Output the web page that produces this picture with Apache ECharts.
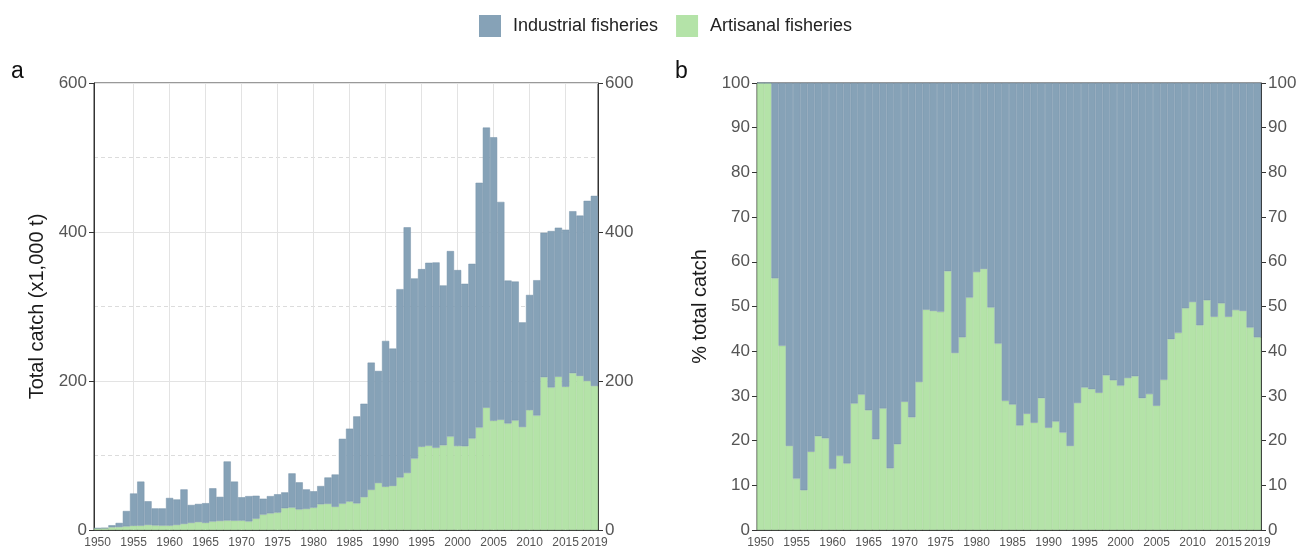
<!DOCTYPE html>
<html>
<head>
<meta charset="utf-8">
<script src="https://cdn.jsdelivr.net/npm/echarts@6/dist/echarts.min.js"></script>
<style>
  html, body { margin: 0; padding: 0; background: #fff; }
  #main { width: 1313px; height: 553px; }
</style>
</head>
<body>
<div id="main"></div>
<script>
let years = [];
for (let y = 1950; y <= 2019; y++) years.push(String(y));

// panel a, x1,000 t
let artisanalCatch = [
    2.3, 2.5, 3.6, 3.9, 4.8, 5.6, 5.8, 6.8, 6.1, 5.9,
    5.9, 6.8, 8.1, 9.5, 10.6, 9.6, 11.4, 12.1, 12.7, 12.5,
    12.6, 11.5, 15.2, 20.7, 22.3, 23.4, 29.2, 30.1, 27.6, 28.3,
    30.0, 34.5, 35.1, 31.1, 35.4, 38.2, 35.7, 44.1, 53.9, 63.0,
    58.1, 59.2, 70.5, 76.4, 95.9, 111.7, 113.0, 110.3, 113.6, 125.4,
    112.7, 112.4, 122.9, 137.5, 164.2, 146.6, 148.0, 143.0, 147.1, 138.2,
    160.9, 153.6, 205.1, 191.4, 205.7, 192.3, 210.5, 206.8, 200.1, 193.3
];
let industrialCatch = [
    0, 0, 2.8, 5.6, 20.7, 43.4, 59.2, 31.8, 22.9, 23.1,
    37.1, 34.2, 46.4, 24.1, 24.4, 26.4, 44.6, 32.4, 79.3, 52.5,
    31.4, 34.0, 30.8, 21.3, 23.2, 24.6, 21.3, 45.9, 36.4, 26.2,
    22.0, 24.5, 35.4, 43.4, 87.0, 97.8, 116.8, 125.4, 170.8, 150.5,
    195.7, 184.3, 252.8, 329.9, 241.8, 238.5, 245.7, 248.9, 214.7, 249.0,
    236.2, 218.1, 234.4, 328.6, 376.0, 380.6, 292.4, 191.8, 186.4, 140.5,
    154.6, 181.7, 194.0, 209.9, 200.1, 210.8, 217.4, 215.2, 241.7, 255.2
];

// panel b, % of total catch
let artisanalShare = [
    100, 100, 56.3, 41.2, 18.8, 11.5, 8.9, 17.5, 21.0, 20.5,
    13.7, 16.6, 14.9, 28.3, 30.3, 26.8, 20.3, 27.2, 13.8, 19.2,
    28.7, 25.2, 33.1, 49.3, 49.0, 48.8, 57.9, 39.6, 43.1, 52.0,
    57.7, 58.4, 49.8, 41.7, 28.9, 28.1, 23.4, 26.0, 24.0, 29.5,
    22.9, 24.3, 21.8, 18.8, 28.4, 31.9, 31.5, 30.7, 34.6, 33.5,
    32.3, 34.0, 34.4, 29.5, 30.4, 27.8, 33.6, 42.7, 44.1, 49.6,
    51.0, 45.8, 51.4, 47.7, 50.7, 47.7, 49.2, 49.0, 45.3, 43.1
];
let industrialShare = [
    0, 0, 43.7, 58.8, 81.2, 88.5, 91.1, 82.5, 79.0, 79.5,
    86.3, 83.4, 85.1, 71.7, 69.7, 73.2, 79.7, 72.8, 86.2, 80.8,
    71.3, 74.8, 66.9, 50.7, 51.0, 51.2, 42.1, 60.4, 56.9, 48.0,
    42.3, 41.6, 50.2, 58.3, 71.1, 71.9, 76.6, 74.0, 76.0, 70.5,
    77.1, 75.7, 78.2, 81.2, 71.6, 68.1, 68.5, 69.3, 65.4, 66.5,
    67.7, 66.0, 65.6, 70.5, 69.6, 72.2, 66.4, 57.3, 55.9, 50.4,
    49.0, 54.2, 48.6, 52.3, 49.3, 52.3, 50.8, 51.0, 54.7, 56.9
];

let blue = '#86a2b7', blueEdge = '#7693a9';
let green = '#b4e3a8', greenEdge = '#a2d396';
let labelGrey = '#555';

// years that get a tick + label
function showYear(i, v) {
    let y = Number(v);
    return y % 5 === 0 || y === 2019;
}

function xAxisFor(grid) {
    return {
        type: 'category',
        gridIndex: grid,
        data: years,
        axisLine: { lineStyle: { color: '#333' } },
        axisTick: { interval: showYear, alignWithLabel: true, length: 5, lineStyle: { color: '#333' } },
        axisLabel: { interval: showYear, color: labelGrey, fontSize: 12, margin: 7, fontFamily: 'Liberation Sans' },
        splitLine: grid === 0 ? {
            show: true,
            alignWithLabel: true,
            interval: function (i, v) { return Number(v) % 5 === 0 && Number(v) > 1950; },
            lineStyle: { color: '#e3e3e3', width: 1 }
        } : { show: false }
    };
}

function yAxisFor(grid, pos, max, step, nameText) {
    return {
        type: 'value',
        gridIndex: grid,
        position: pos,
        min: 0,
        max: max,
        interval: step,
        name: nameText || '',
        nameLocation: 'middle',
        nameGap: 47,
        nameTextStyle: { fontSize: 20, color: '#1a1a1a', fontFamily: 'Liberation Sans' },
        axisLine: { show: true, lineStyle: { color: '#333' } },
        axisTick: { show: true, length: 5, lineStyle: { color: '#333' } },
        axisLabel: { color: labelGrey, fontSize: 17, margin: 7, fontFamily: 'Liberation Sans' },
        splitLine: { show: false }
    };
}

let yCatchLeft = yAxisFor(0, 'left', 600, 200, 'Total catch (x1,000 t)');
yCatchLeft.splitLine = { show: true, lineStyle: { color: '#e3e3e3' } };
// dashed lines at 100 / 300 / 500
let yCatchDash = {
    type: 'value', gridIndex: 0, position: 'left', min: 0, max: 600, interval: 100,
    axisLine: { show: false }, axisTick: { show: false }, axisLabel: { show: false },
    splitLine: {
        show: true,
        lineStyle: { type: [4, 3], color: ['transparent', '#dcdcdc', 'transparent', '#dcdcdc', 'transparent', '#dcdcdc', 'transparent'] }
    }
};

let barStyle = function (c, edge) {
    return { color: c, borderColor: edge, borderWidth: 0.5 };
};

let option = {
    backgroundColor: '#fff',
    animation: false,
    textStyle: { fontFamily: 'Liberation Sans' },
    legend: {
        data: ['Industrial fisheries', 'Artisanal fisheries'],
        left: 474,
        top: 10,
        itemWidth: 22,
        itemHeight: 22,
        itemGap: 18,
        icon: 'rect',
        itemStyle: { borderWidth: 0 },
        textStyle: { fontSize: 18, color: '#222', padding: [0, 0, 0, 7] }
    },
    graphic: [
        { type: 'text', left: 11, top: 60, style: { text: 'a', fill: '#111', font: '23px Liberation Sans' } },
        { type: 'text', left: 675, top: 60, style: { text: 'b', fill: '#111', font: '23px Liberation Sans' } }
    ],
    grid: [
        { left: 94, top: 83, width: 504, height: 447, show: true, borderColor: '#333', borderWidth: 1 },
        { left: 757, top: 83, width: 504, height: 447, show: true, borderColor: '#333', borderWidth: 1 }
    ],
    xAxis: [xAxisFor(0), xAxisFor(1)],
    yAxis: [
        yCatchLeft,
        yAxisFor(0, 'right', 600, 200),
        yAxisFor(1, 'left', 100, 10, '% total catch'),
        yAxisFor(1, 'right', 100, 10),
        yCatchDash
    ],
    series: [
        {
            name: 'Artisanal fisheries', type: 'bar', stack: 'a',
            xAxisIndex: 0, yAxisIndex: 0, barCategoryGap: 0,
            itemStyle: barStyle(green, greenEdge),
            data: artisanalCatch
        },
        {
            name: 'Industrial fisheries', type: 'bar', stack: 'a',
            xAxisIndex: 0, yAxisIndex: 0, barCategoryGap: 0,
            itemStyle: barStyle(blue, blueEdge),
            data: industrialCatch
        },
        {
            name: 'Artisanal fisheries', type: 'bar', stack: 'b',
            xAxisIndex: 1, yAxisIndex: 2, barCategoryGap: 0,
            itemStyle: barStyle(green, greenEdge),
            data: artisanalShare
        },
        {
            name: 'Industrial fisheries', type: 'bar', stack: 'b',
            xAxisIndex: 1, yAxisIndex: 2, barCategoryGap: 0,
            itemStyle: barStyle(blue, blueEdge),
            data: industrialShare
        }
    ]
};

let chart = echarts.init(document.getElementById('main'));
chart.setOption(option);
</script>
</body>
</html>
